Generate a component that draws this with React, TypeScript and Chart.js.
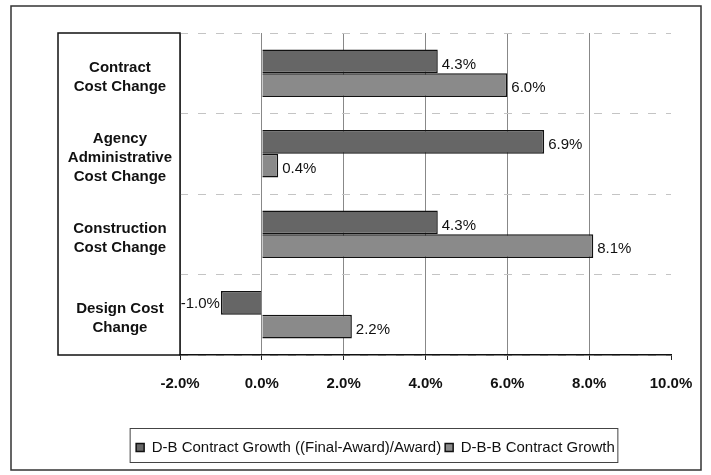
import { useEffect, useRef } from "react";
import { Chart, registerables } from "chart.js";

Chart.register(...registerables);

const categories = [
  ["Contract", "Cost Change"],
  ["Agency", "Administrative", "Cost Change"],
  ["Construction", "Cost Change"],
  ["Design Cost", "Change"],
];
const seriesNames = ["D-B Contract Growth ((Final-Award)/Award)", "D-B-B Contract Growth"];
const dbGrowth = [4.3, 6.9, 4.3, -1.0];
const dbbGrowth = [6.0, 0.4, 8.1, 2.2];
const xMin = -2;
const xMax = 10;
const xStep = 2;

const FONT = "'Liberation Sans', Arial, Helvetica, sans-serif";

const decorPlugin = {
  id: "decor",
  afterLayout(chart: any) {
    const lg = chart.legend;
    if (lg) {
      lg.left += 11;
      lg.right += 11;
    }
  },
  afterDraw(chart: any) {
    const ctx = chart.ctx;
    ctx.save();
    // outer frame
    ctx.strokeStyle = "#333";
    ctx.lineWidth = 1.5;
    ctx.strokeRect(11, 6, 690, 464);
    // category label box
    const y = chart.scales.y;
    ctx.strokeStyle = "#111";
    ctx.lineWidth = 1.5;
    ctx.strokeRect(y.left, y.top, y.right - y.left, y.bottom - y.top);
    // legend border
    const lg = chart.legend;
    if (lg && lg.legendHitBoxes && lg.legendHitBoxes.length) {
      const hb = lg.legendHitBoxes;
      const first = hb[0];
      const last = hb[hb.length - 1];
      const cy = first.top + first.height / 2;
      ctx.strokeStyle = "#444";
      ctx.lineWidth = 1;
      ctx.strokeRect(first.left - 6, cy - 19, last.left + last.width + 3 - (first.left - 6), 34);
    }
    ctx.restore();
  },
  afterDatasetsDraw(chart: any) {
    const ctx = chart.ctx;
    ctx.save();
    ctx.font = `15px ${FONT}`;
    ctx.fillStyle = "#111";
    ctx.textBaseline = "middle";
    chart.data.datasets.forEach((ds: any, di: number) => {
      const meta = chart.getDatasetMeta(di);
      meta.data.forEach((el: any, i: number) => {
        const v = ds.data[i];
        const txt = v.toFixed(1) + "%";
        if (v >= 0) {
          ctx.textAlign = "left";
          ctx.fillText(txt, el.x + 4, el.y + 3);
        } else {
          ctx.textAlign = "right";
          ctx.fillText(txt, el.x - 1, el.y + 1);
        }
      });
    });
    ctx.restore();
  },
};

export default function App() {
  const ref = useRef<HTMLCanvasElement>(null);
  useEffect(() => {
    if (!ref.current) return;
    const chart = new Chart(ref.current, {
      type: "bar",
      data: {
        labels: categories as any,
        datasets: [
          {
            label: seriesNames[0],
            data: dbGrowth,
            backgroundColor: "#666666",
            borderColor: "#111",
            borderWidth: 1.5,
            barPercentage: 1,
            categoryPercentage: 0.59,
          },
          {
            label: seriesNames[1],
            data: dbbGrowth,
            backgroundColor: "#8a8a8a",
            borderColor: "#111",
            borderWidth: 1.5,
            barPercentage: 1,
            categoryPercentage: 0.59,
          },
        ],
      },
      options: {
        indexAxis: "y",
        animation: false,
        responsive: false,
        devicePixelRatio: 1,
        layout: { padding: { top: 33, left: 58, right: 40, bottom: 10 } },
        scales: {
          x: {
            type: "linear",
            min: xMin,
            max: xMax,
            ticks: {
              stepSize: xStep,
              callback: (v: any) => Number(v).toFixed(1) + "%",
              font: { family: FONT, size: 15, weight: "bold" },
              color: "#111",
              padding: 15,
            },
            grid: {
              color: (c: any) => (c.tick && c.tick.value === xMax ? "rgba(0,0,0,0)" : "#888"),
              lineWidth: 1,
              drawTicks: true,
              tickLength: 5,
              tickColor: "#222",
            },
            border: { color: "#111", width: 1.5 },
            afterFit: (s: any) => {
              s.height = 81;
            },
          },
          y: {
            type: "category",
            grid: {
              color: "#c4c4c4",
              drawTicks: false,
              offset: true,
            },
            border: { display: false, dash: [8, 10] },
            ticks: {
              font: { family: FONT, size: 15, weight: "bold", lineHeight: 1.27 },
              color: "#111",
              crossAlign: "center",
              padding: 8,
              labelOffset: 4,
            },
            afterFit: (s: any) => {
              s.width = 122;
            },
          },
        },
        plugins: {
          legend: {
            position: "bottom",
            labels: {
              font: { family: FONT, size: 15 },
              color: "#111",
              boxWidth: 8,
              boxHeight: 8,
              padding: 4,
            },
          },
          tooltip: { enabled: false },
        },
      } as any,
      plugins: [decorPlugin],
    });
    return () => chart.destroy();
  }, []);
  return (
    <div style={{ position: "absolute", left: 0, top: 0, width: 711, height: 475, background: "#fff" }}>
      <canvas ref={ref} width={711} height={475} style={{ display: "block" }} />
    </div>
  );
}
